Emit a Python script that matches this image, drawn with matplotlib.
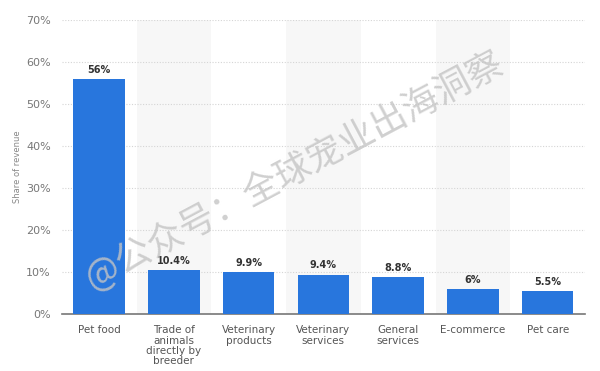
import matplotlib
matplotlib.use("Agg")
import matplotlib.pyplot as plt
import numpy as np

categories = ["Pet food", "Trade of\nanimals\ndirectly by\nbreeder", "Veterinary\nproducts",
              "Veterinary\nservices", "General\nservices", "E-commerce", "Pet care"]
values = [56, 10.4, 9.9, 9.4, 8.8, 6, 5.5]
labels = ["56%", "10.4%", "9.9%", "9.4%", "8.8%", "6%", "5.5%"]
yticks = [0, 10, 20, 30, 40, 50, 60, 70]

plt.rcParams['font.family'] = ['DejaVu Sans', 'Noto Sans CJK SC']

fig = plt.figure(figsize=(6, 3.71), dpi=100)
ax = fig.add_axes([0.103, 0.1536, 0.872, 0.7924])
x = np.arange(len(categories))

# alternating bands
for i in x:
    if i % 2 == 1:
        ax.axvspan(i - 0.5, i + 0.5, color="#f7f7f7", zorder=0, lw=0)

ax.bar(x, values, width=0.69, color="#2876dd", zorder=3)
for xi, v, t in zip(x, values, labels):
    ax.text(xi, v + 1.0, t, ha="center", va="bottom", fontsize=7, color="#333333",
            fontweight="bold")

ax.set_xlim(-0.5, len(categories) - 0.5)
ax.set_ylim(0, 70)
ax.set_yticks(yticks)
ax.set_yticklabels([f"{t}%" for t in yticks])
ax.yaxis.grid(True, linestyle=(0, (1, 1.5)), color="#d5d5d5", linewidth=0.8, zorder=1)
ax.set_axisbelow(True)
ax.set_xticks(x)
ax.set_xticklabels(categories, fontsize=7.5, color="#555555", linespacing=1.05)
ax.tick_params(axis="y", length=0, labelsize=8, labelcolor="#777777", pad=8)
ax.tick_params(axis="x", length=0, pad=8)
for s in ["top", "right", "left"]:
    ax.spines[s].set_visible(False)
ax.spines["bottom"].set_color("#777777")
ax.spines["bottom"].set_linewidth(1.2)
ax.set_ylabel("Share of revenue", fontsize=6, color="#888888", labelpad=3)

fig.text(0.49, 0.54, "@公众号：全球宠业出海洞察", rotation=28, fontsize=26, color="#c4c4c4",
         alpha=0.8, ha="center", va="center", family=['Noto Sans CJK SC', 'DejaVu Sans'],
         zorder=10)

fig.savefig("out.png", dpi=100)
